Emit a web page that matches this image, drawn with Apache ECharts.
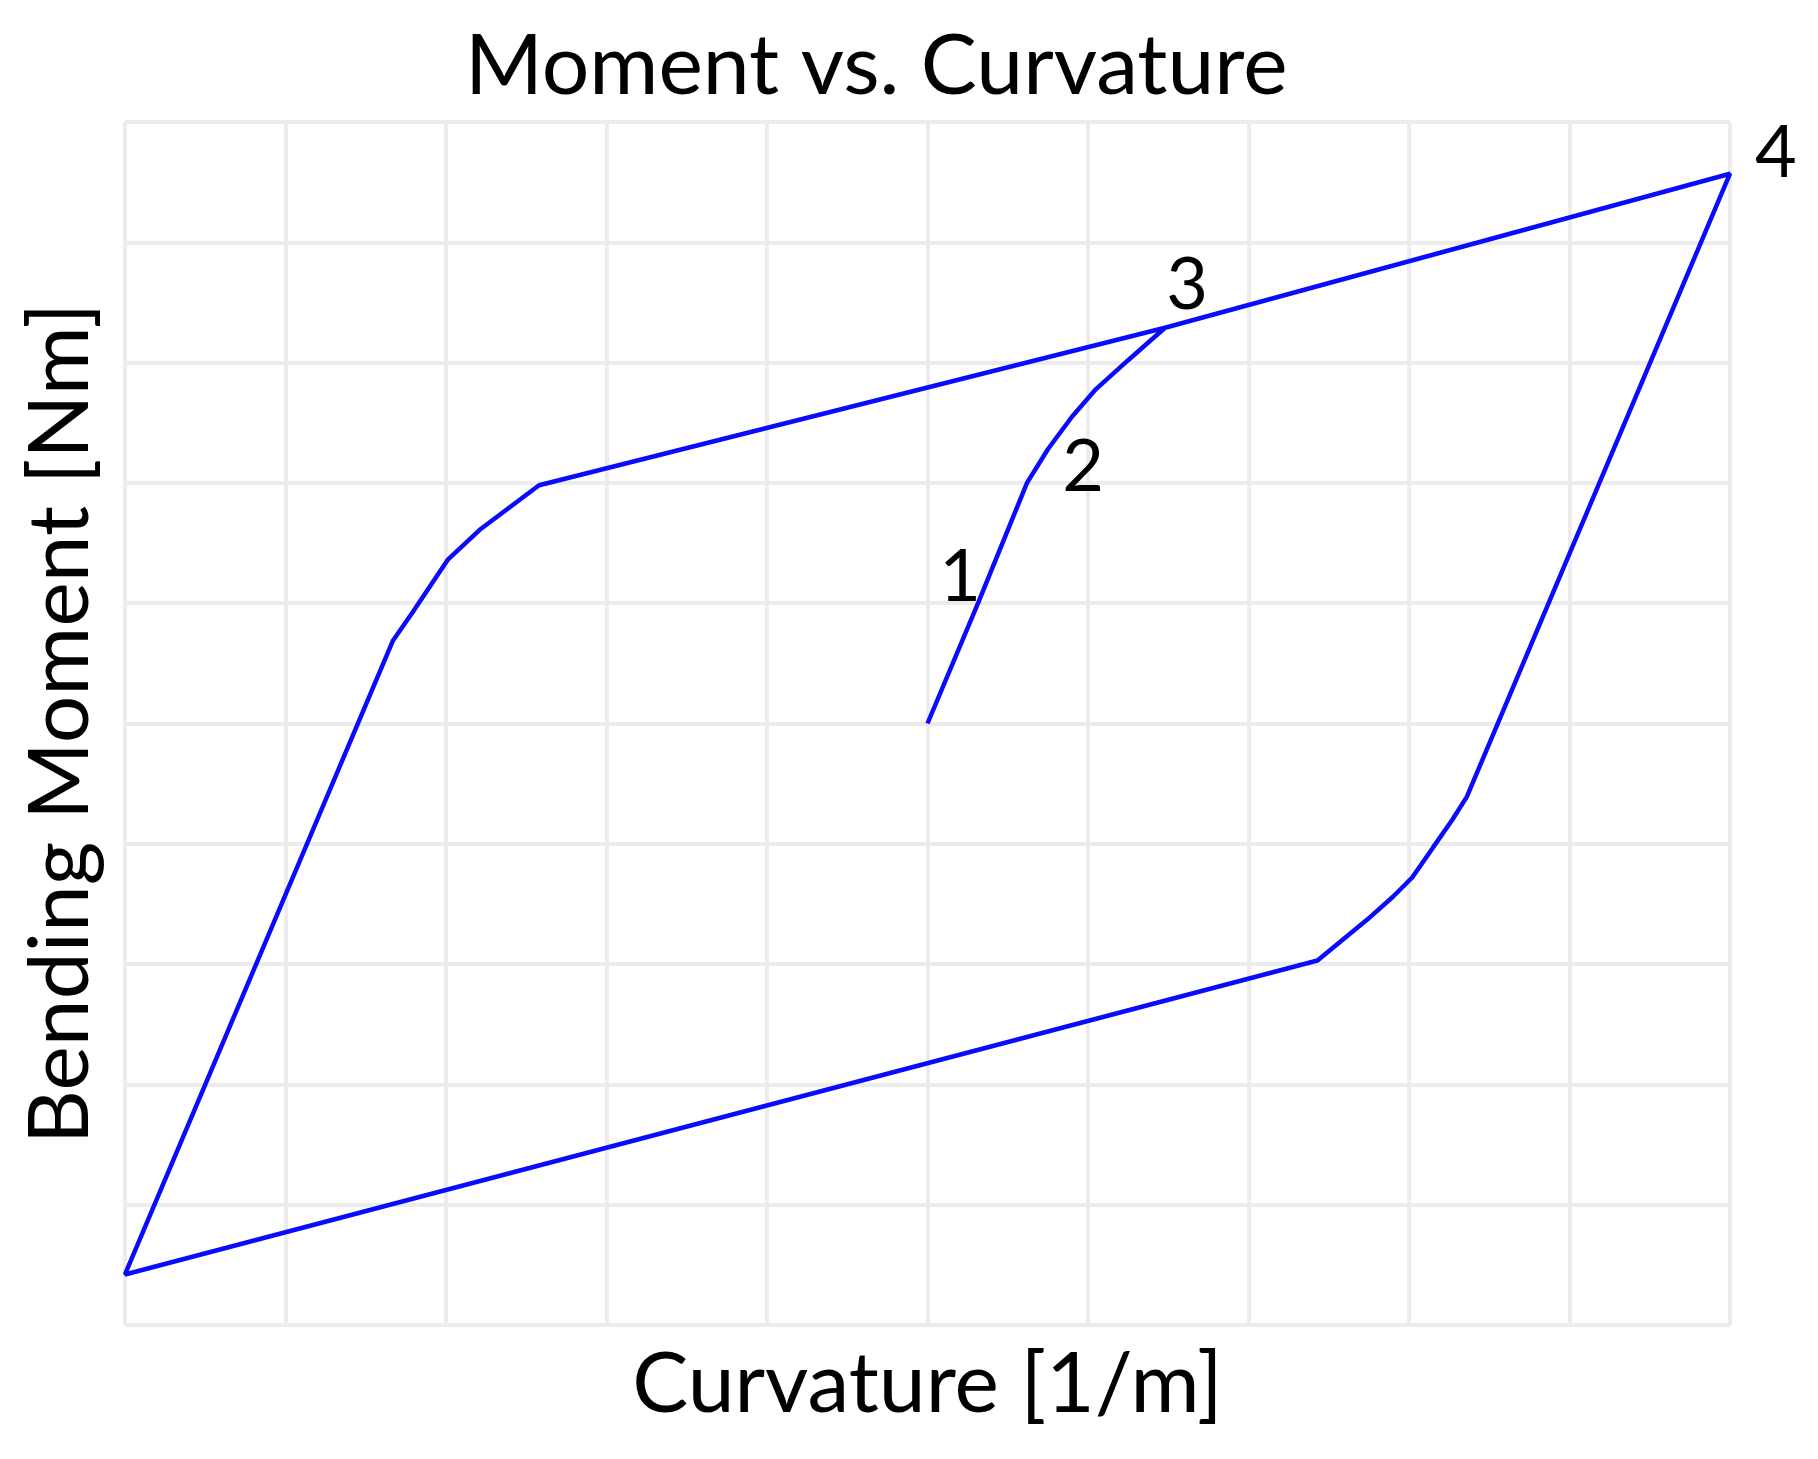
<!DOCTYPE html>
<html>
<head>
<meta charset="utf-8">
<script src="https://cdn.jsdelivr.net/npm/echarts@6/dist/echarts.min.js"></script>
<style>
  html, body { margin: 0; padding: 0; background: #fff; }
  #chart { width: 1818px; height: 1459px; }
</style>
</head>
<body>
<div id="chart"></div>
<script>
// one continuous loading path: 0 -> 1 -> 2 -> 3 -> 4 -> reverse -> back up to 3
const curvature = [0, 0.315, 0.62, 0.75, 0.9, 1.05, 1.25, 1.48, 5.0,
  3.36, 3.27, 3.15, 3.02, 2.9, 2.74, 2.53, 2.43, -5.0,
  -3.33, -3.21, -2.99, -2.79, -2.42, 1.48];
const moment = [0, 1.0, 2.0, 2.28, 2.55, 2.78, 3.02, 3.29, 4.57,
  -0.61, -0.8, -1.03, -1.28, -1.44, -1.63, -1.86, -1.97, -4.58,
  0.69, 0.92, 1.36, 1.61, 1.98, 3.29];

// numbered points
const pointNames = ['1', '2', '3', '4'];
const pointCurvature = [0.315, 0.62, 1.48, 5.0];
const pointMoment = [1.0, 2.0, 3.29, 4.57];
const labelOffsets = [[-18, -25], [56, -15], [22, -42], [46, -20]];

const chart = echarts.init(document.getElementById('chart'));

const axisCommon = {
  type: 'value',
  min: -5,
  max: 5,
  interval: 1,
  axisLabel: { show: false },
  axisTick: { show: false },
  axisLine: { show: true, lineStyle: { color: '#ececec', width: 4 } },
  splitLine: { show: true, lineStyle: { color: '#ececec', width: 4 } },
  nameLocation: 'middle',
  nameTextStyle: { fontFamily: 'Lato', fontSize: 84, color: '#000' }
};

const option = {
  backgroundColor: '#fff',
  animation: false,
  title: {
    text: 'Moment vs. Curvature',
    left: 460,
    top: 20,
    textStyle: { fontFamily: 'Lato', fontSize: 84, fontWeight: 'normal', color: '#000' }
  },
  grid: { left: 125, right: 88, top: 122, bottom: 134 },
  xAxis: Object.assign({}, axisCommon, { name: 'Curvature [1/m]', nameGap: 18 }),
  yAxis: Object.assign({}, axisCommon, { name: 'Bending Moment [Nm]', nameGap: 22 }),
  series: [
    {
      type: 'line',
      data: curvature.map((c, i) => [c, moment[i]]),
      showSymbol: false,
      lineStyle: { color: '#0a0aff', width: 4.5 },
      z: 3
    },
    {
      type: 'scatter',
      symbolSize: 0,
      itemStyle: { opacity: 1 },
      data: pointNames.map((n, i) => ({
        name: n,
        value: [pointCurvature[i], pointMoment[i]],
        label: { offset: labelOffsets[i] }
      })),
      label: {
        show: true,
        position: 'inside',
        formatter: p => p.name,
        fontFamily: 'Lato',
        fontSize: 72,
        color: '#000',
        opacity: 1
      },
      z: 4
    }
  ]
};

chart.setOption(option);
window.addEventListener('resize', () => {
  chart.resize();
});
</script>
</body>
</html>
